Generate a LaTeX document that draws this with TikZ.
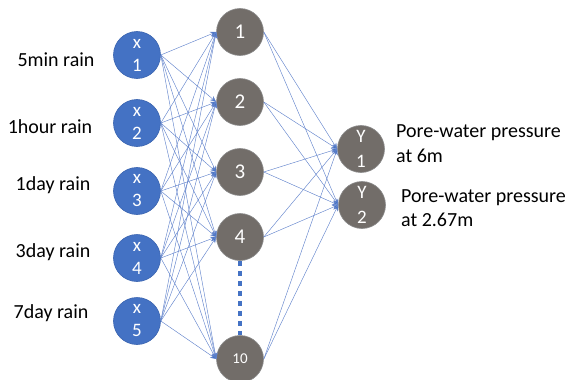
\documentclass[tikz,border=0pt]{standalone}
\usepackage{fontspec}
\setmainfont{Carlito}
\usetikzlibrary{arrows.meta}
\definecolor{inblue}{HTML}{4472C4}
\definecolor{inedge}{HTML}{3A64B0}
\definecolor{hgray}{HTML}{726D69}
\definecolor{hedge}{HTML}{8C8C8C}
\definecolor{linkblue}{HTML}{6384CC}
\begin{document}
\begin{tikzpicture}[x=1pt,y=-1pt,
  inneuron/.style={circle,fill=inblue,draw=inedge,line width=0.6pt,minimum size=47pt,inner sep=0pt,text=white,align=center,font=\fontsize{19}{23}\selectfont},
  hneuron/.style={circle,fill=hgray,draw=hedge,line width=0.6pt,minimum size=47pt,inner sep=0pt,text=white,align=center,font=\fontsize{21}{24}\selectfont},
  lab/.style={inner sep=0pt,font=\fontsize{20}{24}\selectfont},
  link/.style={draw=linkblue,line width=0.45pt,-{Stealth[length=6pt,width=5pt,fill=inblue]}}
]
\useasboundingbox (0,0) rectangle (574,380);
% input nodes
\node[inneuron] (x1) at (137,55) {x\\1};
\node[inneuron] (x2) at (137,123) {x\\2};
\node[inneuron] (x3) at (137,191) {x\\3};
\node[inneuron] (x4) at (137,258) {x\\4};
\node[inneuron] (x5) at (137,321) {x\\5};
% hidden nodes
\node[hneuron] (h1) at (240,32) {1};
\node[hneuron] (h2) at (240,102) {2};
\node[hneuron] (h3) at (240,172) {3};
\node[hneuron] (h4) at (240,237) {4};
\node[hneuron,font=\fontsize{15}{16}\selectfont] (h10) at (240,359) {10};
% output nodes
\node[hneuron,font=\fontsize{19}{25}\selectfont] (y1) at (361,149) {Y\\1};
\node[hneuron,font=\fontsize{19}{25}\selectfont] (y2) at (362,205) {Y\\2};
% input labels
\node[lab] (l1) at (56,60) {5min rain};
\node[lab] (l2) at (50,127) {1hour rain};
\node[lab] (l3) at (53,185) {1day rain};
\node[lab] (l4) at (53,252) {3day rain};
\node[lab] (l5) at (51,313) {7day rain};
% output labels
\node[lab,anchor=west,align=left,font=\fontsize{20}{25}\selectfont] (o1) at (396,143.5) {Pore-water pressure\\at 6m};
\node[lab,anchor=west,align=left,font=\fontsize{20}{24}\selectfont] (o2) at (401,208) {Pore-water pressure\\at 2.67m};
% connections
\foreach \i in {1,...,5}{
  \foreach \j in {1,2,3,4,10}{
    \draw[link] (x\i.east) -- (h\j.west);
  }
}
\foreach \j in {1,2,3,4,10}{
  \foreach \k in {1,2}{
    \draw[link] (h\j.east) -- (y\k.west);
  }
}
% dotted continuation
\draw[draw=inblue,line width=4pt,dash pattern=on 5pt off 5pt] (h4.south) -- (h10.north);
\end{tikzpicture}
\end{document}
